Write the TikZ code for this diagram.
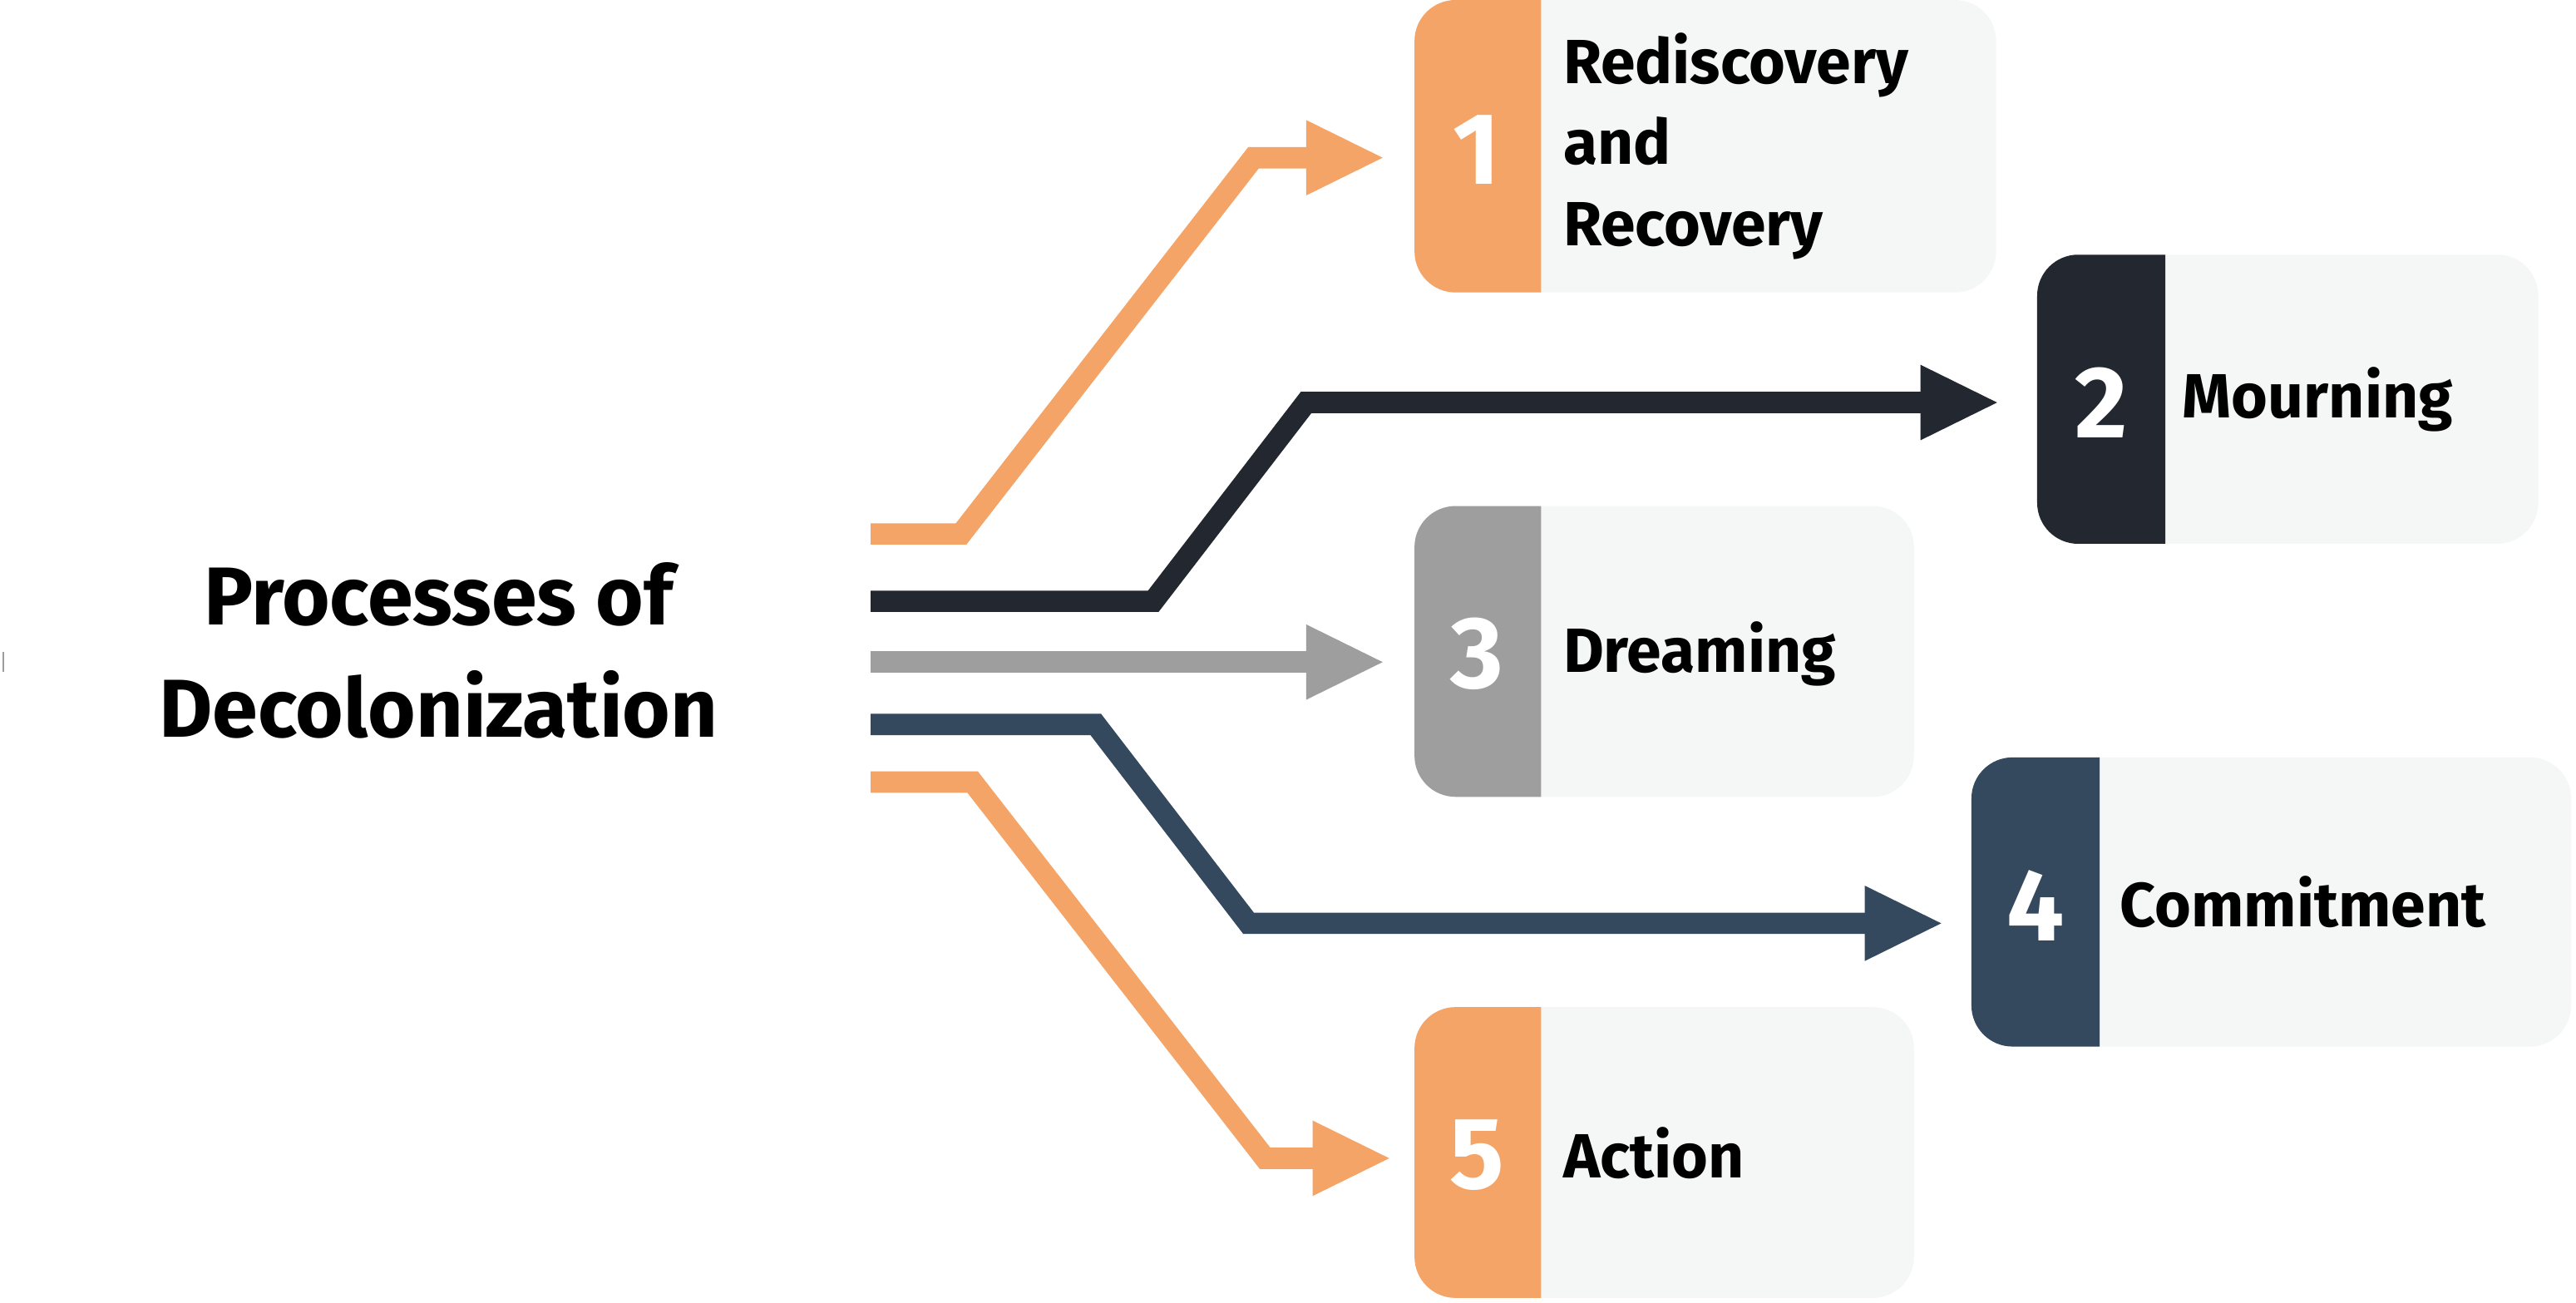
\documentclass[tikz,border=0pt]{standalone}
\usepackage{fontspec}
\setmainfont{Fira Sans}
\usetikzlibrary{arrows.meta}
\definecolor{cor}{HTML}{F4A466}
\definecolor{cdk}{HTML}{232830}
\definecolor{cgr}{HTML}{9E9E9E}
\definecolor{cnv}{HTML}{34495E}
\definecolor{clt}{HTML}{F5F6F6}
\begin{document}
\begin{tikzpicture}[x=1pt,y=-1pt,
  lab/.style={anchor=west,font=\fontsize{38}{48}\selectfont\bfseries,align=left,text=black},
  num/.style={font=\fontsize{62}{62}\selectfont\bfseries,text=white},
  band/.style={line width=13pt,-{Triangle[width=42pt,length=48pt]}}]
\useasboundingbox[fill=white] (0,0) rectangle (1568,793);
\newcommand{\mybox}[6]{% x1 x2 x3 y1 y2 color
  \fill[clt,rounded corners=25] (#1,#4) rectangle (#3,#5);
  \fill[#6] (#2,#4) [rounded corners=25]-- (#1,#4) -- (#1,#5) [sharp corners]-- (#2,#5) -- cycle;}
\mybox{861}{938}{1215}{0}{178}{cor}
\mybox{1240}{1318}{1545}{155}{331}{cdk}
\mybox{861}{938}{1165}{308}{485}{cgr}
\mybox{1200}{1278}{1565}{461}{637}{cnv}
\mybox{861}{938}{1165}{613}{790}{cor}
\node[num] (n1) at (899,91) {1};
\node[num] (n2) at (1279,245) {2};
\node[num] (n3) at (899,398) {3};
\node[num] (n4) at (1239,551) {4};
\node[num] (n5) at (899,703) {5};
\node[lab,font=\fontsize{38}{49.5}\selectfont\bfseries] (t1) at (948,89) {Rediscovery\\and\\Recovery};
\node[lab] (t2) at (1325,243) {Mourning};
\node[lab] (t3) at (948,398) {Dreaming};
\node[lab] (t4) at (1287,549) {Commitment};
\node[lab] (t5) at (948,702) {Action};
\node[font=\fontsize{50}{68}\selectfont\bfseries,align=center] (title) at (267,396) {Processes of\\Decolonization};
\coordinate (s1) at (530,325); \coordinate (e1) at (843,96);
\coordinate (s2) at (530,366); \coordinate (e2) at (1217,245);
\coordinate (s3) at (530,403); \coordinate (e3) at (843,403);
\coordinate (s4) at (530,441); \coordinate (e4) at (1183,562);
\coordinate (s5) at (530,476); \coordinate (e5) at (847,705);
\draw[band,cor] (s1) -- (585,325) -- (763,96) -- (e1);
\draw[band,cdk] (s2) -- (702,366) -- (795,245) -- (e2);
\draw[band,cgr] (s3) -- (e3);
\draw[band,cnv] (s4) -- (667,441) -- (760,562) -- (e4);
\draw[band,cor] (s5) -- (592,476) -- (770,705) -- (e5);
\draw[cgr,line width=1pt] (2,397) -- (2,409);
\end{tikzpicture}
\end{document}
